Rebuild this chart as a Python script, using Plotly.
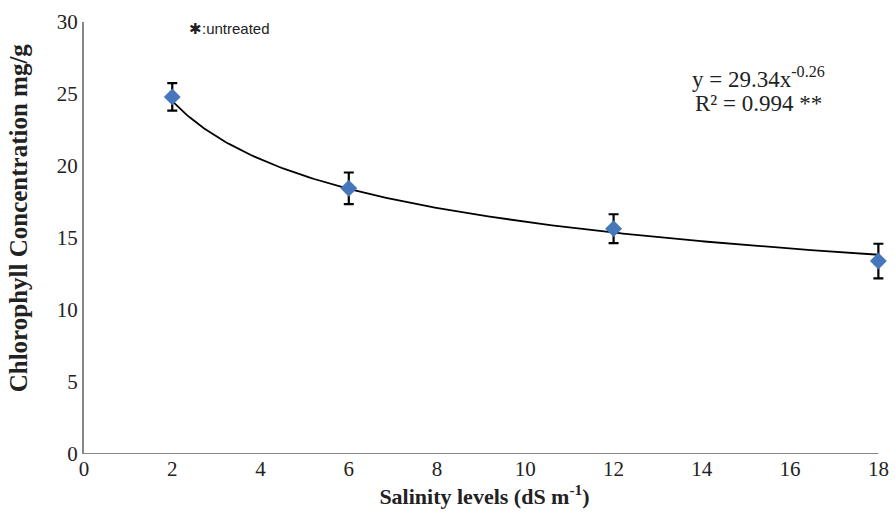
import numpy as np
import plotly.graph_objects as go

# Salinity treatments and measured chlorophyll (mean ± error)
salinity = [2, 6, 12, 18]
chlorophyll = [24.8, 18.45, 15.65, 13.4]
error = [0.95, 1.1, 1.0, 1.2]

# Power trendline parameters: y = a * x^b
fit_a = 29.34
fit_b = -0.26

x_ticks = [0, 2, 4, 6, 8, 10, 12, 14, 16, 18]
y_ticks = [0, 5, 10, 15, 20, 25, 30]

x_fit = np.linspace(min(salinity), max(salinity), 200)
y_fit = fit_a * x_fit ** fit_b

fig = go.Figure()
fig.add_trace(go.Scatter(
    x=x_fit, y=y_fit, mode="lines",
    line=dict(color="black", width=1.8),
    hoverinfo="skip", showlegend=False, cliponaxis=False,
))
fig.add_trace(go.Scatter(
    x=salinity, y=chlorophyll, mode="markers",
    marker=dict(symbol="diamond", size=13, color="#4677BA"),
    error_y=dict(type="data", array=error, color="black", thickness=2.2, width=5),
    showlegend=False, cliponaxis=False,
))

serif = "Liberation Serif, Times New Roman, serif"

margin_l, margin_r, margin_t, margin_b = 84, 6.35, 22, 62
plot_w = 895 - margin_l - margin_r
plot_h = 516 - margin_t - margin_b

# Trendline equation and fit quality
fig.add_annotation(
    x=0.842, y=0.871, xref="paper", yref="paper", xanchor="center", yanchor="middle",
    text="y = 29.34x<sup>-0.26</sup>", showarrow=False,
    font=dict(family=serif, size=23, color="#222222"),
)
fig.add_annotation(
    x=0.842, y=0.8125, xref="paper", yref="paper", xanchor="center", yanchor="middle",
    text="R² = 0.994 **", showarrow=False,
    font=dict(family=serif, size=23, color="#222222"),
)
fig.add_annotation(
    x=0.128, y=0.985, xref="paper", yref="paper", xanchor="left", yanchor="middle",
    text="✱:untreated", showarrow=False,
    font=dict(family="Liberation Sans, Arial, sans-serif", size=15, color="#222222"),
)
# Vertical axis title, placed left of the tick labels
fig.add_annotation(
    x=(18 - margin_l) / plot_w, y=(516 - margin_b - 218) / plot_h,
    xref="paper", yref="paper", xanchor="center", yanchor="middle",
    text="<b>Chlorophyll Concentration mg/g</b>", textangle=-90, showarrow=False,
    font=dict(family=serif, size=25, color="#222222"),
)

fig.update_layout(
    width=895, height=516,
    margin=dict(l=margin_l, r=margin_r, t=margin_t, b=margin_b),
    paper_bgcolor="white", plot_bgcolor="white",
    font=dict(family=serif, size=21, color="#222222"),
)
# x axis runs slightly past 18 so the last error bar is not clipped;
# its visible line is drawn only from 0 to 18
fig.update_xaxes(
    range=[0, 18.15], tickvals=x_ticks, ticks="", showgrid=False, zeroline=False,
    showline=False,
    title=dict(text="<b>Salinity levels (dS m<sup>-1</sup>)</b>", font=dict(family=serif, size=22), standoff=4),
)
fig.add_shape(
    type="line", xref="x", yref="y", x0=0, x1=18, y0=0, y1=0,
    line=dict(color="#878787", width=2),
)
fig.update_yaxes(
    range=[0, 30], tickvals=y_ticks, ticks="", showgrid=False, zeroline=False,
    showline=True, linecolor="#878787", linewidth=2,
)

fig.write_html("out.html")
